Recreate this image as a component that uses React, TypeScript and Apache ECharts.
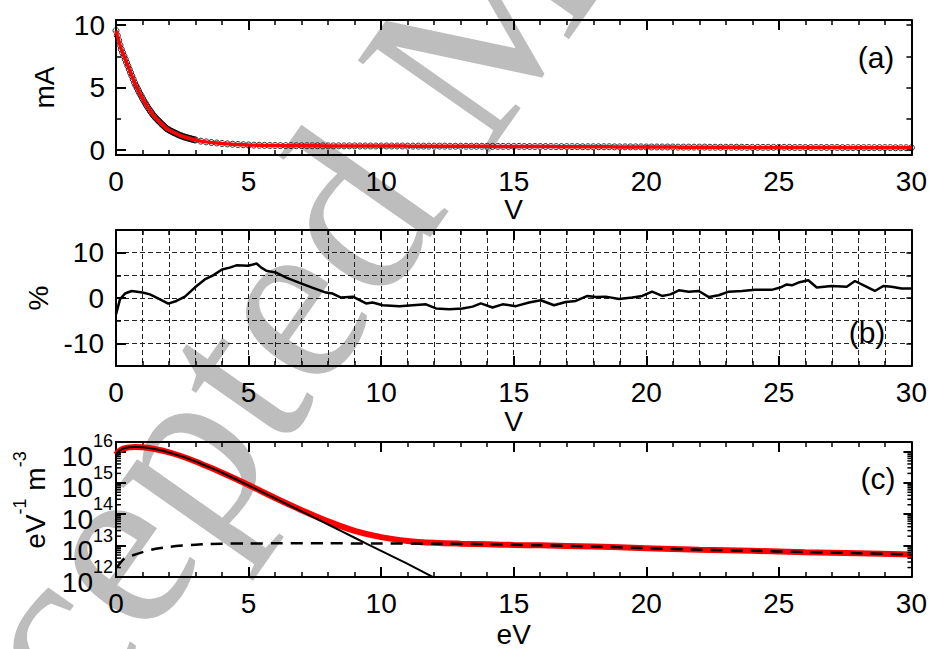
import React, { useEffect, useRef } from 'react';
import * as echarts from 'echarts';

const FONT = '"Liberation Sans Narrow", "Arial Narrow", "Liberation Sans", Arial, sans-serif';
const FS = 28;

// ---------- panel (a): probe current (mA) vs bias (V) ----------
// measured points, 0 ... 3 V every 0.05 V
const currentFineStep = 0.05;
const currentFine = [
  9.55, 9.15, 8.78, 8.4, 8.06, 7.78, 7.52, 7.25, 6.98, 6.72,
  6.45, 6.18, 5.92, 5.65, 5.38, 5.16, 4.94, 4.73, 4.52, 4.33,
  4.13, 3.94, 3.76, 3.58, 3.41, 3.25, 3.1, 2.95, 2.8, 2.68,
  2.56, 2.45, 2.34, 2.24, 2.13, 2.03, 1.93, 1.83, 1.73, 1.66,
  1.6, 1.54, 1.48, 1.43, 1.38, 1.33, 1.28, 1.23, 1.18, 1.14,
  1.1, 1.06, 1.03, 1.0, 0.97, 0.94, 0.91, 0.88, 0.85, 0.82,
  0.8,
];
// measured points, 3.2 ... 30 V every 0.2 V
const currentCoarseStart = 3.2;
const currentCoarseStep = 0.2;
const currentCoarse = [
  0.71, 0.65, 0.6, 0.56, 0.52, 0.49, 0.46, 0.44, 0.42, 0.4, 0.39, 0.38, 0.37, 0.36, 0.36,
  0.35, 0.35, 0.35, 0.34, 0.34,
  0.34, 0.34, 0.34, 0.33, 0.33, 0.33, 0.33, 0.33, 0.33, 0.33, 0.32, 0.32, 0.32, 0.32, 0.32,
  0.32, 0.32, 0.32, 0.32, 0.31, 0.31, 0.31, 0.31, 0.31, 0.31, 0.31, 0.31, 0.3, 0.3, 0.3,
  0.3, 0.3, 0.3, 0.3, 0.3, 0.29, 0.29, 0.29, 0.29, 0.29,
  0.29, 0.28, 0.28, 0.28, 0.28, 0.28, 0.28, 0.27, 0.27, 0.27, 0.27, 0.27, 0.26, 0.26, 0.26,
  0.26, 0.26, 0.26, 0.25, 0.25, 0.25, 0.25, 0.25, 0.25, 0.24,
  0.24, 0.24, 0.24, 0.24, 0.24, 0.23, 0.23, 0.23, 0.23, 0.23, 0.23, 0.22, 0.22, 0.22, 0.22,
  0.22, 0.22, 0.22, 0.21, 0.21, 0.21, 0.21, 0.21, 0.21, 0.21,
  0.21, 0.21, 0.2, 0.2, 0.2, 0.2, 0.2, 0.2, 0.2, 0.2, 0.2, 0.19, 0.19, 0.19, 0.19,
  0.19, 0.19, 0.19, 0.19, 0.19, 0.19, 0.18, 0.18, 0.18, 0.18,
];

// ---------- panel (b): fit residual (%) ----------
const residualVolts = [
  0, 0.15, 0.34, 0.59, 1.0, 1.28, 1.66, 1.97, 2.28, 2.6, 2.97, 3.35, 3.66, 4.0, 4.29, 4.54,
  4.98, 5.3, 5.48, 5.67, 6.04, 6.42, 6.9, 7.4, 7.92, 8.17, 8.49, 8.93, 9.43, 9.68, 10.06,
  10.69, 11.19, 11.69, 12.07, 12.57, 13.07, 13.45, 13.76, 14.2, 14.58, 15.08, 15.58, 16.02,
  16.52, 16.96, 17.34, 17.78, 18.09, 18.47, 18.97, 19.47, 19.85, 20.22, 20.6, 20.91, 21.23,
  21.6, 21.98, 22.36, 22.73, 23.11, 23.61, 24.11, 24.73, 25.05, 25.3, 25.49, 25.74, 26.11,
  26.43, 26.99, 27.56, 27.87, 28.24, 28.62, 28.94, 29.25, 29.63, 30,
];
const residualPct = [
  -3.6, -0.3, 1.0, 1.55, 1.2, 0.8, -0.3, -1.25, -0.65, 0.3, 2.3, 4.1, 5.0, 6.3, 6.7, 7.2,
  7.1, 7.6, 6.7, 6.0, 5.6, 4.5, 3.4, 2.3, 1.2, 0.97, 0.1, 0.3, -1.2, -1.0, -1.6,
  -1.8, -1.6, -1.4, -2.3, -2.5, -2.3, -1.9, -1.2, -2.1, -1.4, -1.8, -1.0, -0.5,
  -1.6, -0.9, -0.65, 0.45, 0.2, 0.3, -0.2, 0.1, 0.45, 1.4, 0.45, 0.8, 1.7,
  1.4, 1.55, 0.2, 0.6, 1.4, 1.55, 1.8, 1.8, 2.3, 3.0, 2.8, 3.4, 3.9,
  2.3, 2.65, 2.5, 3.75, 2.65, 1.55, 2.65, 2.5, 2.1, 2.1,
];

// ---------- panel (c): EEDF (eV^-1 m^-3) ----------
const eedfEnergy = [
  0, 0.1, 0.2, 0.3, 0.5, 0.7, 1, 1.5, 2, 2.5, 3, 3.5, 4, 5, 6, 7, 8, 9, 10, 11, 12, 13, 14,
  15, 16, 18, 20, 22, 24, 26, 28, 30,
];
const eedfTotal = [
  7.9e15, 1.0e16, 1.15e16, 1.26e16, 1.35e16, 1.38e16, 1.35e16, 1.17e16, 9.3e15, 6.9e15,
  4.8e15, 3.2e15, 2.1e15, 8.5e14, 3.3e14, 1.35e14, 5.9e13, 2.95e13, 1.86e13, 1.41e13,
  1.23e13, 1.15e13, 1.1e13, 1.05e13, 1.02e13, 9.3e12, 8.3e12, 7.4e12, 6.8e12, 6.2e12,
  5.75e12, 5.25e12,
];
const coldEnergy = [0, 0.1, 0.2, 0.3, 0.5, 0.7, 1, 1.5, 2, 2.5, 3, 3.5, 4, 5, 6, 7, 8, 9, 10, 11, 12];
const coldMaxwellian = [
  7.9e15, 1.0e16, 1.15e16, 1.26e16, 1.35e16, 1.38e16, 1.35e16, 1.17e16, 9.3e15, 6.9e15,
  4.8e15, 3.2e15, 2.1e15, 8.3e14, 3.2e14, 1.23e14, 4.7e13, 1.78e13, 6.8e12, 2.6e12, 9.5e11,
];
const hotEnergy = [
  0.03, 0.3, 0.5, 0.7, 1, 1.5, 2, 2.5, 3, 3.5, 4, 5, 6, 8, 10, 12, 14, 16, 18, 20, 22, 24,
  26, 28, 30,
];
const hotMaxwellian = [
  2.0e12, 3.8e12, 4.5e12, 5.1e12, 6.2e12, 7.9e12, 9.1e12, 1.0e13, 1.07e13, 1.12e13, 1.15e13,
  1.17e13, 1.18e13, 1.18e13, 1.17e13, 1.15e13, 1.1e13, 1.02e13, 9.3e12, 8.3e12, 7.4e12,
  6.8e12, 6.2e12, 5.75e12, 5.25e12,
];
const logDecades = [12, 13, 14, 15];
const logMinorMultipliers = [2, 3, 4, 5, 6, 7, 8, 9];

const black = '#000';
const axisFont = { color: black, fontFamily: FONT, fontSize: FS };

function xAxis(gi: number, pos: 'top' | 'bottom', name: string, nameGap: number, grid: boolean) {
  const bottom = pos === 'bottom';
  return {
    type: 'value', gridIndex: gi, position: pos, min: 0, max: 30, interval: 5,
    axisLine: { show: true, onZero: false, lineStyle: { color: black, width: 2 } },
    axisTick: { show: true, inside: true, length: 10, lineStyle: { color: black, width: 2 } },
    minorTick: { show: true, splitNumber: 5, length: 5, lineStyle: { color: black, width: 1.5 } },
    axisLabel: { show: bottom, margin: 12, ...axisFont },
    splitLine: { show: grid && bottom, lineStyle: { color: '#222', width: 1, type: [5, 3] } },
    minorSplitLine: { show: grid && bottom, lineStyle: { color: '#222', width: 1, type: [5, 3] } },
    name: bottom ? name : '', nameLocation: 'middle', nameGap,
    nameTextStyle: { ...axisFont },
  };
}

export default function App() {
  const ref = useRef<HTMLDivElement>(null);
  useEffect(() => {
    const chart = echarts.init(ref.current!, null, { renderer: 'svg' });

    const currentPoints = [
      ...currentFine.map((v, i) => [+(i * currentFineStep).toFixed(2), v]),
      ...currentCoarse.map((v, i) => [+(currentCoarseStart + i * currentCoarseStep).toFixed(2), v]),
    ];
    const residual = residualVolts.map((x, i) => [x, residualPct[i]]);
    const total = eedfEnergy.map((x, i) => [x, eedfTotal[i]]);
    const cold = coldEnergy.map((x, i) => [x, coldMaxwellian[i]]);
    const hot = hotEnergy.map((x, i) => [x, hotMaxwellian[i]]);
    const minorLog: number[][] = [];
    logDecades.forEach((d) => logMinorMultipliers.forEach((m) => minorLog.push([0, m * Math.pow(10, d)])));

    const option: any = {
      animation: false,
      backgroundColor: '#fff',
      grid: [
        { left: 116, top: 20, width: 797, height: 135 },
        { left: 116, top: 230, width: 797, height: 136 },
        { left: 116, top: 442, width: 797, height: 135 },
      ],
      xAxis: [
        xAxis(0, 'bottom', 'V', 39, false),
        xAxis(0, 'top', '', 0, false),
        xAxis(1, 'bottom', 'V', 41, true),
        xAxis(1, 'top', '', 0, false),
        xAxis(2, 'bottom', 'eV', 43, false),
        xAxis(2, 'top', '', 0, false),
      ],
      yAxis: [
        {
          type: 'value', gridIndex: 0, position: 'left', min: -0.4, max: 10.4,
          splitNumber: 2, minInterval: 5, maxInterval: 5,
          axisLine: { show: true, onZero: false, lineStyle: { color: black, width: 2 } },
          axisTick: { show: true, inside: true, length: 10, lineStyle: { color: black, width: 2 } },
          minorTick: { show: true, splitNumber: 2, length: 5, lineStyle: { color: black, width: 1.5 } },
          axisLabel: {
            margin: 11, ...axisFont,
            formatter: (v: number) => (Math.abs(v % 5) < 1e-9 ? String(v) : ''),
          },
          splitLine: { show: false },
          name: 'mA', nameLocation: 'middle', nameRotate: 90, nameGap: 58,
          nameTextStyle: { ...axisFont },
        },
        {
          type: 'value', gridIndex: 0, position: 'right', min: -0.4, max: 10.4,
          splitNumber: 4, minInterval: 2.5, maxInterval: 2.5,
          axisLine: { show: true, onZero: false, lineStyle: { color: black, width: 2 } },
          axisTick: { show: true, inside: true, length: 5, lineStyle: { color: black, width: 1.5 } },
          axisLabel: { show: false }, splitLine: { show: false },
        },
        {
          type: 'value', gridIndex: 1, position: 'left', min: -15, max: 15,
          splitNumber: 3, minInterval: 10, maxInterval: 10,
          axisLine: { show: true, onZero: false, lineStyle: { color: black, width: 2 } },
          axisTick: { show: true, inside: true, length: 10, lineStyle: { color: black, width: 2 } },
          minorTick: { show: true, splitNumber: 2, length: 5, lineStyle: { color: black, width: 1.5 } },
          axisLabel: {
            margin: 12, ...axisFont,
            formatter: (v: number) => (Math.abs(v % 10) < 1e-9 ? String(v) : ''),
          },
          splitLine: { show: true, lineStyle: { color: '#222', width: 1, type: [5, 3] } },
          minorSplitLine: { show: true, lineStyle: { color: '#222', width: 1, type: [5, 3] } },
          name: '%', nameLocation: 'middle', nameRotate: 90, nameGap: 64,
          nameTextStyle: { ...axisFont },
        },
        {
          type: 'value', gridIndex: 1, position: 'right', min: -15, max: 15,
          splitNumber: 6, minInterval: 5, maxInterval: 5,
          axisLine: { show: true, onZero: false, lineStyle: { color: black, width: 2 } },
          axisTick: { show: true, inside: true, length: 5, lineStyle: { color: black, width: 1.5 } },
          axisLabel: { show: false }, splitLine: { show: false },
        },
        {
          type: 'log', logBase: 10, gridIndex: 2, position: 'left', min: 1e12, max: 2e16,
          axisLine: { show: true, onZero: false, lineStyle: { color: black, width: 2 } },
          axisTick: { show: true, inside: true, length: 10, lineStyle: { color: black, width: 2 } },
          axisLabel: {
            margin: 3,
            formatter: (v: number) => {
              const e = Math.log10(v);
              if (Math.abs(e - Math.round(e)) > 1e-6) return '';
              return '{b|10}{s|' + Math.round(e) + '}';
            },
            rich: {
              b: { fontSize: FS, fontFamily: FONT, color: black, verticalAlign: 'bottom' },
              s: { fontSize: 18, fontFamily: FONT, color: black, verticalAlign: 'top', padding: [0, 0, 20, 0] },
            },
          },
          splitLine: { show: false },
        },
        {
          type: 'log', logBase: 10, gridIndex: 2, position: 'right', min: 1e12, max: 2e16,
          axisLine: { show: true, onZero: false, lineStyle: { color: black, width: 2 } },
          axisTick: { show: true, inside: true, length: 8, lineStyle: { color: black, width: 2 } },
          axisLabel: { show: false }, splitLine: { show: false },
        },
      ],
      graphic: [
        {
          type: 'text', z: -10, silent: true, x: 455, y: 58, rotation: 0.96,
          style: {
            text: 'Accepted Manuscript', fill: '#bdbdbd',
            font: '245px "Liberation Serif", "Times New Roman", serif',
            align: 'center', verticalAlign: 'middle',
          },
        },
        { type: 'text', x: 876, y: 57, style: { text: '(a)', fill: black, font: '30px ' + FONT, align: 'center', verticalAlign: 'middle' } },
        { type: 'text', x: 867, y: 332, style: { text: '(b)', fill: black, font: '30px ' + FONT, align: 'center', verticalAlign: 'middle' } },
        { type: 'text', x: 878, y: 478, style: { text: '(c)', fill: black, font: '30px ' + FONT, align: 'center', verticalAlign: 'middle' } },
        {
          type: 'text', x: 30, y: 500, rotation: Math.PI / 2,
          style: {
            text: '{b|eV}{s|-1}{b| m}{s|-3}', align: 'center', verticalAlign: 'middle',
            rich: {
              b: { fontSize: FS, fontFamily: FONT, fill: black, verticalAlign: 'bottom' },
              s: { fontSize: 18, fontFamily: FONT, fill: black, verticalAlign: 'top', padding: [0, 0, 20, 0] },
            },
          },
        },
      ],
      series: [
        {
          type: 'scatter', xAxisIndex: 0, yAxisIndex: 0, data: currentPoints,
          symbol: 'circle', symbolSize: 6,
          itemStyle: { color: 'rgba(0,0,0,0)', borderColor: black, borderWidth: 1 }, z: 2,
        },
        {
          type: 'line', xAxisIndex: 0, yAxisIndex: 0, data: currentPoints, showSymbol: false,
          symbol: 'none', lineStyle: { color: '#ff0000', width: 3.5 }, z: 3,
        },
        {
          type: 'line', xAxisIndex: 2, yAxisIndex: 2, data: residual, symbol: 'none',
          lineStyle: { color: black, width: 2.5 }, z: 3,
        },
        {
          type: 'line', xAxisIndex: 4, yAxisIndex: 4, data: total, symbol: 'none', smooth: 0.3,
          lineStyle: { color: '#ff0000', width: 6 }, z: 3,
        },
        {
          type: 'line', xAxisIndex: 4, yAxisIndex: 4, data: cold, symbol: 'none', smooth: 0.3,
          lineStyle: { color: black, width: 2 }, z: 4,
        },
        {
          type: 'line', xAxisIndex: 4, yAxisIndex: 4, data: hot, symbol: 'none', smooth: 0.3,
          lineStyle: { color: black, width: 2.5, type: [12, 8] }, z: 5,
        },
        {
          type: 'custom', xAxisIndex: 4, yAxisIndex: 4, data: minorLog, silent: true, z: 6,
          renderItem: (params: any, api: any) => {
            const v = api.value(1);
            const pl = api.coord([0, v]);
            const pr = api.coord([30, v]);
            return {
              type: 'group',
              children: [
                { type: 'line', shape: { x1: pl[0], y1: pl[1], x2: pl[0] + 5, y2: pl[1] }, style: { stroke: black, lineWidth: 1.5 } },
                { type: 'line', shape: { x1: pr[0] - 4, y1: pr[1], x2: pr[0], y2: pr[1] }, style: { stroke: black, lineWidth: 1.5 } },
              ],
            };
          },
        },
      ],
    };
    chart.setOption(option);
    return () => chart.dispose();
  }, []);
  return (
    <div
      ref={ref}
      style={{ position: 'fixed', left: 0, top: 0, width: 930, height: 649, background: '#fff' }}
    />
  );
}
